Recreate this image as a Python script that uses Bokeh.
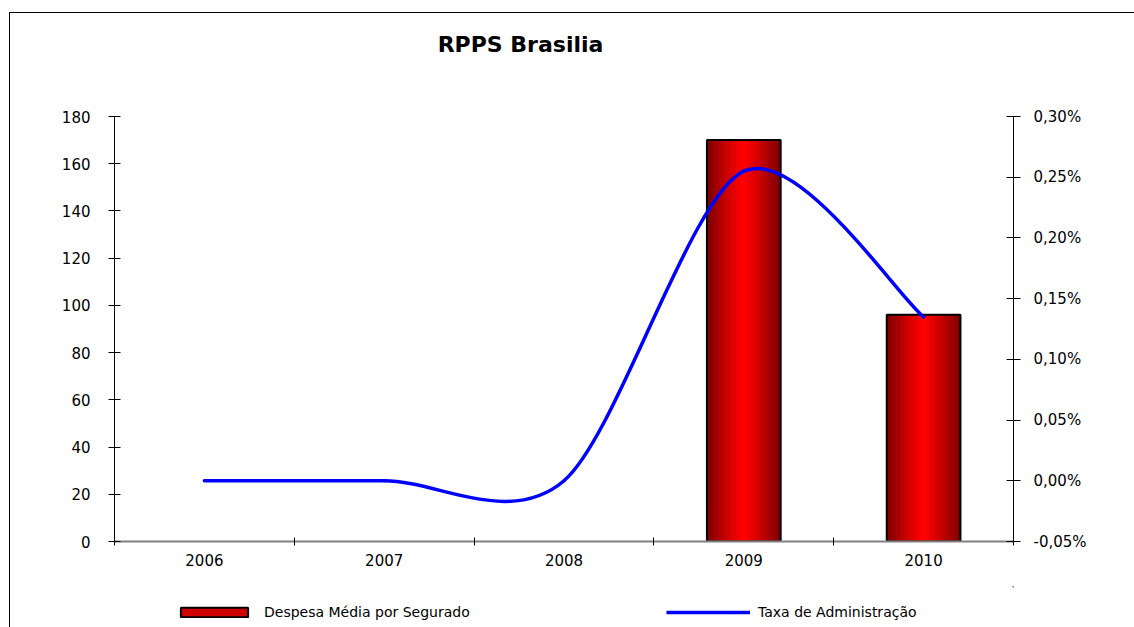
import numpy as np
from bokeh.plotting import figure
from bokeh.layouts import column
from bokeh.models import (Range1d, LinearAxis, FixedTicker, CustomJSTickFormatter,
                          Legend, LegendItem, Label)
from bokeh.embed import file_html
from bokeh.resources import INLINE

# ---------------- data ----------------
years = ["2006", "2007", "2008", "2009", "2010"]
despesa = [None, None, None, 170, 96]          # Despesa Média por Segurado
taxa = [0.0, 0.0, 0.0, 0.255, 0.135]           # Taxa de Administração (%)
left_ticks = [0, 20, 40, 60, 80, 100, 120, 140, 160, 180]
right_ticks = [-0.05, 0.0, 0.05, 0.10, 0.15, 0.20, 0.25, 0.30]
series_names = ["Despesa Média por Segurado", "Taxa de Administração"]
title_text = "RPPS Brasilia"

FONT = "DejaVu Sans"
BAR_COLOR = "#d00000"
LINE_COLOR = "#0000ff"


def bare(fig):
    fig.grid.visible = False
    fig.outline_line_color = None
    fig.background_fill_alpha = 0
    fig.border_fill_alpha = 0


# ---------------- header (title) ----------------
hf = figure(width=1134, height=60, x_range=Range1d(0, 1), y_range=Range1d(0, 1),
            x_axis_type=None, y_axis_type=None, output_backend="svg", toolbar_location=None,
            min_border=0)
bare(hf)
hf.add_layout(Label(x=406, y=16, x_units="screen", y_units="screen", text=title_text,
                    text_font=FONT, text_font_style="bold", text_font_size="22px",
                    text_color="black", text_align="center", text_baseline="middle"))

# ---------------- main chart ----------------
p = figure(frame_width=899, frame_height=425, x_range=Range1d(-0.5, 4.5), y_range=Range1d(0, 180),
           output_backend="svg", toolbar_location=None,
           min_border_left=114, min_border_right=121, min_border_top=56, min_border_bottom=45)
p.extra_y_ranges = {"pct": Range1d(-0.05, 0.30)}
bare(p)
p.background_fill_color = "white"
p.background_fill_alpha = 1

# bars (horizontal gradient via strips)
bw = 0.41
N = 30
sx, st, sw, sc = [], [], [], []
bx, bt = [], []
for i, v in enumerate(despesa):
    if v is None:
        continue
    bx.append(i)
    bt.append(v)
    for k in range(N):
        t = (k + 0.5) / N
        u = abs(t - 0.5) * 2
        r = int(round(255 - 135 * u ** 1.2))
        sx.append(i - bw / 2 + t * bw)
        st.append(v)
        sw.append(bw / N * 1.3)
        sc.append("#%02x0000" % r)
p.vbar(x=sx, top=st, width=sw, bottom=0, fill_color=sc, line_color=None)
p.vbar(x=bx, top=bt, width=bw, bottom=0, fill_color=None, line_color="black", line_width=2)

# smoothed line (cubic Bezier segments through the data points)
xs = np.arange(len(years), dtype=float)
ys = np.array(taxa, dtype=float)
kf = 0.15
n = len(xs)
X0, Y0, X1, Y1, CX0, CY0, CX1, CY1 = [], [], [], [], [], [], [], []
for i in range(n - 1):
    pm = i - 1 if i > 0 else i
    pp = i + 2 if i + 2 < n else i + 1
    X0.append(xs[i]); Y0.append(ys[i]); X1.append(xs[i + 1]); Y1.append(ys[i + 1])
    CX0.append(xs[i] + (xs[i + 1] - xs[pm]) * kf)
    CY0.append(ys[i] + (ys[i + 1] - ys[pm]) * kf)
    CX1.append(xs[i + 1] - (xs[pp] - xs[i]) * kf)
    CY1.append(ys[i + 1] - (ys[pp] - ys[i]) * kf)
p.bezier(x0=X0, y0=Y0, x1=X1, y1=Y1, cx0=CX0, cy0=CY0, cx1=CX1, cy1=CY1,
         line_color=LINE_COLOR, line_width=3.5, line_cap="round", y_range_name="pct")

# axes
xa = p.xaxis[0]
xa.ticker = FixedTicker(ticks=list(range(len(years))),
                        minor_ticks=[i - 0.5 for i in range(len(years) + 1)])
xa.major_label_overrides = {i: y for i, y in enumerate(years)}
xa.major_tick_in = 0
xa.major_tick_out = 0
xa.minor_tick_in = 4
xa.minor_tick_out = 4
xa.minor_tick_line_color = "black"
xa.axis_line_color = "#808080"
xa.axis_line_width = 2
xa.major_label_standoff = 8
xa.major_label_text_font = FONT
xa.major_label_text_font_size = "15px"
xa.major_label_text_color = "black"

ya = p.yaxis[0]
ya.ticker = FixedTicker(ticks=left_ticks)
ya.major_tick_in = 6
ya.major_tick_out = 6
ya.minor_tick_line_color = None
ya.axis_line_color = "black"
ya.major_tick_line_color = "black"
ya.major_label_standoff = 18
ya.major_label_text_font = FONT
ya.major_label_text_font_size = "15px"
ya.major_label_text_color = "black"

ra = LinearAxis(y_range_name="pct", ticker=FixedTicker(ticks=right_ticks),
                formatter=CustomJSTickFormatter(code="return tick.toFixed(2).replace('.', ',') + '%';"))
ra.major_tick_in = 7
ra.major_tick_out = 7
ra.minor_tick_line_color = None
ra.axis_line_color = "black"
ra.major_tick_line_color = "black"
ra.major_label_standoff = 13
ra.major_label_text_font = FONT
ra.major_label_text_font_size = "15px"
ra.major_label_text_color = "black"
p.add_layout(ra, "right")

# ---------------- legend strip ----------------
# proxies drawn from the same data but outside this strip's visible ranges
lf = figure(width=1134, height=41, x_range=Range1d(-100, -99), y_range=Range1d(-100, -99),
            x_axis_type=None, y_axis_type=None, output_backend="svg", toolbar_location=None,
            min_border=0)
bare(lf)
leg_bar = lf.vbar(x=bx, top=bt, width=bw, fill_color=BAR_COLOR, line_color="black", line_width=2)
leg_line = lf.line(x=list(xs), y=taxa, line_color=LINE_COLOR, line_width=3.5)

for name, rend, loc in ((series_names[0], leg_bar, (58, 7)),
                        (series_names[1], leg_line, (552, 7))):
    lg = Legend(items=[LegendItem(label=name, renderers=[rend])], location=loc,
                orientation="horizontal")
    lg.border_line_color = None
    lg.background_fill_alpha = 0
    lg.padding = 0
    lg.margin = 0
    lg.glyph_width = 84
    lg.glyph_height = 12
    lg.label_standoff = 8
    lg.label_text_font = FONT
    lg.label_text_font_size = "14px"
    lg.label_text_color = "black"
    lf.add_layout(lg, "center")

layout = column(hf, p, lf, spacing=0)
layout.styles = {
    "background-color": "white",
    "background-image": "linear-gradient(#000,#000), linear-gradient(#000,#000)",
    "background-repeat": "no-repeat",
    "background-position": "9px 12px, 9px 12px",
    "background-size": "1px 100%, 100% 1px",
}

open("out.html", "w").write(file_html(layout, INLINE))
